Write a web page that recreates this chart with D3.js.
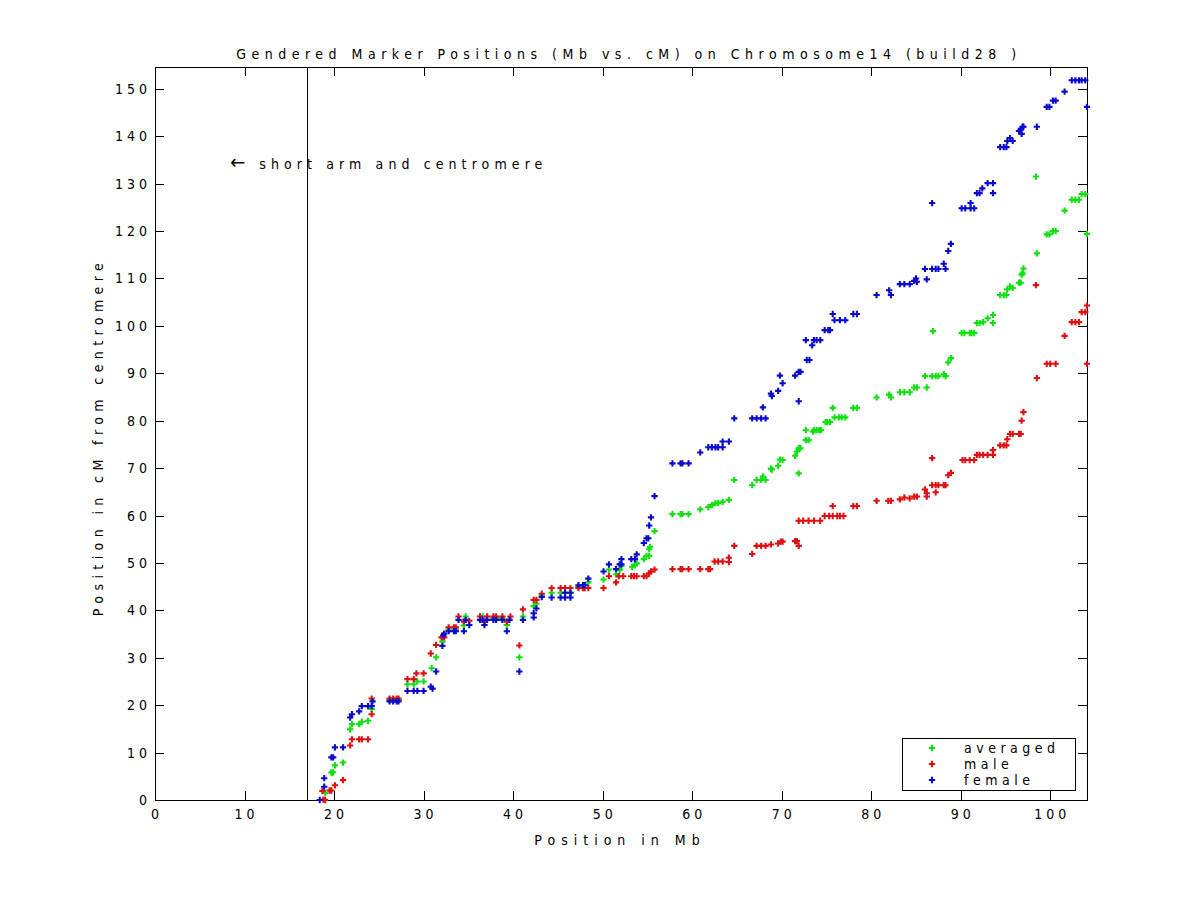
<!DOCTYPE html>
<html><head><meta charset="utf-8">
<script src="https://cdn.jsdelivr.net/npm/d3@7"></script>
<style>
body{margin:0;background:#fff;}
text{font-family:'Liberation Sans Narrow','DejaVu Sans Condensed','Liberation Sans',sans-serif;fill:#000;}
</style></head><body>
<svg id="c" width="1200" height="900"></svg>
<script>
const titleText = "Gendered Marker Positions (Mb vs. cM) on Chromosome14 (build28 )";
const xLabel = "Position in Mb";
const yLabel = "Position in cM from centromere";
const seriesNames = ["averaged", "male", "female"];
const xTicks = [0,10,20,30,40,50,60,70,80,90,100];
const yTicks = [0,10,20,30,40,50,60,70,80,90,100,110,120,130,140,150];
const centromereMb = 17.0;
const annotationArrow = "\u2190";
const annotation = "short arm and centromere";

const averaged = [[19.0,1.5],[19.7,5.8],[19.9,5.8],[20.1,7.3],[21.0,7.9],[21.8,14.9],[22.0,16.0],[22.8,16.0],[23.1,16.5],[23.8,16.7],[24.2,19.2],[26.2,21.1],[26.6,21.1],[27.0,21.1],[27.2,21.1],[28.2,24.4],[28.9,24.4],[29.3,25.0],[30.0,25.0],[30.9,27.8],[31.4,30.1],[32.1,33.4],[32.8,35.9],[33.4,35.9],[33.6,35.9],[34.5,36.8],[34.7,38.7],[36.6,38.7],[37.8,38.3],[38.1,38.3],[38.8,38.3],[39.3,36.9],[40.7,30.1],[41.1,38.7],[42.3,40.9],[42.6,41.4],[43.2,43.1],[44.3,43.7],[45.3,43.7],[45.8,43.7],[46.4,43.7],[47.3,45.0],[47.8,45.0],[48.4,45.9],[50.1,46.5],[50.7,48.6],[51.5,47.6],[51.9,48.5],[52.1,49.4],[53.3,49.2],[53.6,49.5],[53.8,49.9],[54.6,50.8],[54.9,51.5],[55.2,51.5],[55.2,52.9],[55.3,53.4],[55.8,56.7],[57.8,60.3],[58.7,60.3],[58.9,60.3],[59.6,60.3],[60.9,61.3],[61.8,61.8],[62.2,62.2],[62.6,62.6],[62.9,62.6],[63.4,62.9],[64.1,63.3],[64.7,67.5],[66.7,66.4],[67.2,67.5],[67.7,67.5],[67.9,68.2],[68.2,67.5],[68.8,69.9],[68.9,69.7],[69.6,70.5],[69.8,71.8],[70.1,71.7],[71.5,72.6],[71.7,73.5],[71.9,74.2],[72.1,74.2],[71.9,68.9],[72.7,75.9],[73.0,75.9],[72.7,78.0],[73.5,77.7],[73.6,78.0],[73.9,78.0],[74.2,78.0],[74.4,78.0],[74.9,79.7],[75.1,79.7],[75.4,79.7],[75.7,82.7],[75.9,80.7],[76.4,80.7],[76.7,80.7],[77.1,80.7],[78.0,82.7],[78.4,82.7],[80.6,84.9],[82.0,85.5],[82.2,84.9],[83.2,86.0],[83.7,86.0],[84.3,86.0],[84.8,87.0],[85.1,87.0],[86.2,87.0],[86.0,89.4],[86.8,89.4],[87.2,89.4],[87.5,89.4],[86.9,98.9],[88.1,89.8],[88.3,89.4],[88.6,92.3],[88.9,93.2],[90.1,98.5],[90.4,98.5],[91.0,98.5],[91.2,98.5],[91.5,98.5],[91.8,100.6],[92.1,100.6],[92.5,100.8],[93.0,101.6],[93.6,102.3],[93.6,100.6],[94.4,106.5],[94.8,106.5],[95.1,106.5],[95.2,107.7],[95.5,108.3],[95.8,108.0],[96.5,109.1],[96.7,109.1],[96.8,110.8],[96.9,111.1],[97.0,112.1],[98.4,131.5],[98.5,115.3],[99.6,119.3],[99.9,119.3],[100.3,120.0],[100.6,120.0],[101.6,124.3],[102.4,126.6],[102.8,126.6],[103.2,126.6],[103.5,127.8],[103.9,127.8],[104.1,119.4]];

const male = [[18.8,0.1],[19.0,0],[18.7,1.9],[19.5,2.0],[19.7,2.0],[20.1,3.1],[21.0,4.2],[21.8,11.5],[22.0,12.8],[22.8,12.8],[23.1,12.8],[23.8,12.8],[24.2,18.1],[24.2,21.4],[26.2,21.4],[26.6,21.4],[27.0,21.4],[27.2,21.4],[28.2,25.5],[28.9,25.5],[29.2,26.7],[30.0,26.7],[30.8,30.9],[31.4,32.7],[32.0,34.3],[32.3,34.3],[32.8,36.4],[33.4,36.4],[33.6,36.4],[33.9,38.7],[34.5,37.6],[35.1,37.8],[36.3,38.7],[37.1,38.7],[36.8,37.6],[37.8,38.7],[38.1,38.7],[38.8,38.7],[39.7,38.7],[39.3,37.6],[40.7,32.6],[41.1,40.2],[42.3,42.2],[42.6,42.2],[43.2,43.5],[44.3,44.7],[45.3,44.7],[45.8,44.7],[46.4,44.7],[47.3,44.7],[47.8,44.7],[48.0,44.7],[48.4,44.7],[50.1,44.7],[50.7,47.2],[51.5,45.9],[51.8,47.2],[52.3,47.2],[53.2,47.2],[53.5,47.2],[53.8,47.2],[54.6,47.2],[54.9,47.2],[55.2,47.8],[55.4,48.2],[55.8,48.6],[57.8,48.7],[58.7,48.7],[58.9,48.7],[59.6,48.7],[60.9,48.7],[61.8,48.7],[62.0,48.7],[62.5,50.3],[62.9,50.3],[63.4,50.3],[64.1,51.1],[64.1,50.2],[64.7,53.6],[66.7,51.9],[67.2,53.6],[67.7,53.6],[68.2,53.6],[68.8,53.9],[69.6,54.1],[69.9,54.5],[70.1,54.5],[71.5,54.6],[71.7,54.6],[71.9,53.6],[71.9,58.9],[72.4,58.9],[73.0,58.9],[73.6,58.9],[74.3,58.9],[74.8,59.9],[75.3,59.9],[75.7,59.9],[76.2,59.9],[76.5,59.9],[76.9,59.9],[75.7,62.0],[78.0,62.0],[78.4,62.0],[80.6,63.1],[81.9,63.1],[82.2,63.1],[83.2,63.4],[83.7,63.8],[84.3,63.6],[84.8,64.0],[85.1,64.0],[86.0,65.5],[86.2,64.7],[86.2,64.0],[86.8,72.1],[86.8,66.4],[87.2,66.4],[87.5,66.4],[88.1,66.4],[88.3,66.4],[87.2,64.9],[88.6,68.5],[88.9,69.0],[90.2,71.7],[90.5,71.7],[91.0,71.7],[91.5,71.7],[91.8,72.8],[92.1,72.8],[92.5,72.8],[93.0,72.8],[93.6,72.8],[93.6,73.8],[94.4,74.8],[94.8,74.8],[95.1,74.8],[95.2,76.1],[95.5,77.2],[95.8,77.2],[96.5,77.2],[96.7,77.2],[96.8,80.0],[97.0,81.8],[98.4,108.6],[98.5,89.0],[99.6,92.0],[100.0,92.0],[100.6,92.0],[101.6,97.9],[102.4,100.8],[102.8,100.8],[103.2,100.8],[103.5,102.9],[103.9,102.9],[104.1,104.3],[104.1,92.0]];

const female = [[18.4,0],[18.9,2.8],[18.9,4.6],[19.7,9.0],[19.9,9.0],[20.1,11.1],[21.0,11.1],[21.8,17.4],[22.0,18.1],[22.8,18.7],[23.1,19.8],[23.8,19.8],[24.2,19.8],[24.3,20.8],[26.2,20.8],[26.6,20.8],[27.0,20.8],[27.2,20.8],[28.2,23.0],[28.9,23.0],[29.3,23.0],[30.0,23.0],[30.8,23.9],[31.0,23.5],[31.4,27.1],[32.1,32.5],[32.2,34.7],[32.3,35.1],[32.8,35.6],[33.4,35.6],[33.6,35.6],[33.9,38.0],[34.5,35.6],[34.7,38.0],[35.1,36.9],[36.3,38.0],[36.6,38.0],[37.1,38.0],[36.8,36.9],[37.8,38.0],[38.1,38.0],[38.8,38.0],[39.6,38.0],[39.3,35.6],[40.7,27.1],[41.1,38.0],[42.3,39.4],[42.3,38.5],[42.6,40.4],[43.2,42.8],[44.3,42.7],[45.3,42.7],[45.8,42.7],[46.4,42.7],[45.8,43.7],[46.4,43.7],[47.3,45.3],[47.8,45.3],[48.0,45.3],[48.4,46.7],[50.1,48.2],[50.7,49.7],[51.5,48.7],[51.9,49.7],[52.1,49.7],[52.1,50.8],[53.2,50.8],[53.6,50.8],[53.8,51.8],[54.6,54.2],[54.9,55.2],[55.1,55.2],[55.2,57.9],[55.4,59.6],[55.8,64.1],[57.8,71.0],[58.7,71.0],[58.9,71.0],[59.6,71.0],[60.9,73.3],[61.8,74.4],[62.2,74.4],[62.6,74.4],[62.9,74.4],[63.4,74.4],[63.4,75.6],[64.1,75.6],[64.7,80.5],[66.7,80.5],[67.2,80.5],[67.7,80.5],[68.2,80.5],[67.9,82.8],[68.8,85.7],[68.9,85.2],[69.6,86.3],[70.1,87.9],[69.8,89.5],[71.5,89.5],[71.9,90.3],[72.1,90.3],[71.9,84.1],[72.8,92.8],[73.1,92.8],[72.7,97.0],[73.4,95.9],[73.6,97.0],[73.9,97.0],[74.3,97.0],[74.8,99.1],[75.2,99.1],[75.4,99.1],[75.7,102.5],[75.9,101.2],[76.5,101.2],[77.1,101.2],[78.0,102.5],[78.4,102.5],[80.6,106.5],[82.0,107.5],[82.2,106.5],[83.2,108.8],[83.7,108.8],[84.3,108.8],[84.8,109.5],[85.0,110.0],[85.1,109.3],[86.2,109.8],[86.0,112.0],[86.8,112.0],[87.2,112.0],[87.5,112.0],[86.8,125.9],[88.1,113.1],[88.3,112.0],[88.6,115.8],[88.9,117.3],[90.1,124.8],[90.5,124.8],[91.1,124.8],[91.5,124.8],[91.1,125.9],[91.8,128.0],[92.1,128.0],[92.4,129.0],[93.0,130.1],[93.6,130.1],[93.6,128.0],[94.4,137.7],[94.8,137.7],[95.1,137.7],[95.2,139.0],[95.5,139.6],[95.8,139.0],[96.5,141.1],[96.7,141.4],[96.8,140.5],[96.9,142.0],[97.0,142.0],[98.5,142.0],[99.6,146.2],[99.9,146.2],[100.3,147.5],[100.6,147.5],[101.6,149.4],[102.4,151.8],[102.8,151.8],[103.2,151.8],[103.5,151.8],[103.9,151.8],[104.1,146.2]];

const colors = ["#10e010", "#e01010", "#0a0acc"];
const allSeries = [averaged, male, female];

const svg = d3.select("#c");
const L = 155, R = 1087, T = 67, B = 800;
const x = d3.scaleLinear().domain([0, 104.1]).range([L, R]);
const y = d3.scaleLinear().domain([0, 154.6]).range([B, T]);
const FS = "14px";

svg.append("rect").attr("x", L + 0.5).attr("y", T + 0.5).attr("width", R - L).attr("height", B - T)
  .attr("fill", "none").attr("stroke", "#000").attr("stroke-width", 1).attr("shape-rendering", "crispEdges");

const tickLen = 9;
const gx = svg.append("g").attr("shape-rendering", "crispEdges");
xTicks.forEach(t => {
  const px = Math.round(x(t)) + 0.5;
  gx.append("line").attr("x1", px).attr("x2", px).attr("y1", B).attr("y2", B - tickLen).attr("stroke", "#000");
  gx.append("line").attr("x1", px).attr("x2", px).attr("y1", T).attr("y2", T + tickLen).attr("stroke", "#000");
  gx.append("text").attr("x", x(t) + 2).attr("y", 819).attr("text-anchor", "middle")
    .style("font-size", FS).style("letter-spacing", "4px").text(t);
});
yTicks.forEach(t => {
  const py = Math.round(y(t)) + 0.5;
  gx.append("line").attr("x1", L).attr("x2", L + tickLen).attr("y1", py).attr("y2", py).attr("stroke", "#000");
  gx.append("line").attr("x1", R).attr("x2", R - tickLen).attr("y1", py).attr("y2", py).attr("stroke", "#000");
  gx.append("text").attr("x", 151).attr("y", y(t) + 5).attr("text-anchor", "end")
    .style("font-size", FS).style("letter-spacing", "4px").text(t);
});

svg.append("line").attr("x1", Math.round(x(centromereMb)) + 0.5).attr("x2", Math.round(x(centromereMb)) + 0.5)
  .attr("y1", T).attr("y2", B).attr("stroke", "#000").attr("shape-rendering", "crispEdges");

const ann = svg.append("text").attr("x", x(8.4)).attr("y", y(134.2) + 5).style("font-size", FS).style("letter-spacing", "5.1px");
ann.append("tspan").style("font-size", "20px").style("letter-spacing", "14px").text(annotationArrow);
ann.append("tspan").text(annotation);

svg.append("text").attr("x", 629).attr("y", 59).attr("text-anchor", "middle").style("font-size", FS).style("letter-spacing", "5.5px").text(titleText);
svg.append("text").attr("x", 620).attr("y", 845).attr("text-anchor", "middle").style("font-size", FS).style("letter-spacing", "6px").text(xLabel);
svg.append("text").attr("transform", "translate(103,437) rotate(-90)").attr("text-anchor", "middle").style("font-size", FS).style("letter-spacing", "5.4px").text(yLabel);

const sym = d3.symbol().type(d3.symbolCross).size(22);
allSeries.forEach((s, i) => {
  svg.append("g").selectAll("path").data(s).join("path")
    .attr("transform", d => `translate(${x(d[0])},${y(d[1])})`)
    .attr("d", sym).attr("fill", colors[i]);
});

const lg = svg.append("g");
lg.append("rect").attr("x", 902.5).attr("y", 738.5).attr("width", 173).attr("height", 52)
  .attr("fill", "#fff").attr("stroke", "#000").attr("shape-rendering", "crispEdges");
seriesNames.forEach((n, i) => {
  const yy = 748 + i * 16;
  lg.append("path").attr("transform", `translate(932,${yy})`).attr("d", sym).attr("fill", colors[i]);
  lg.append("text").attr("x", 964).attr("y", yy + 5).style("font-size", FS).style("letter-spacing", "4.5px").text(n);
});
</script></body></html>
